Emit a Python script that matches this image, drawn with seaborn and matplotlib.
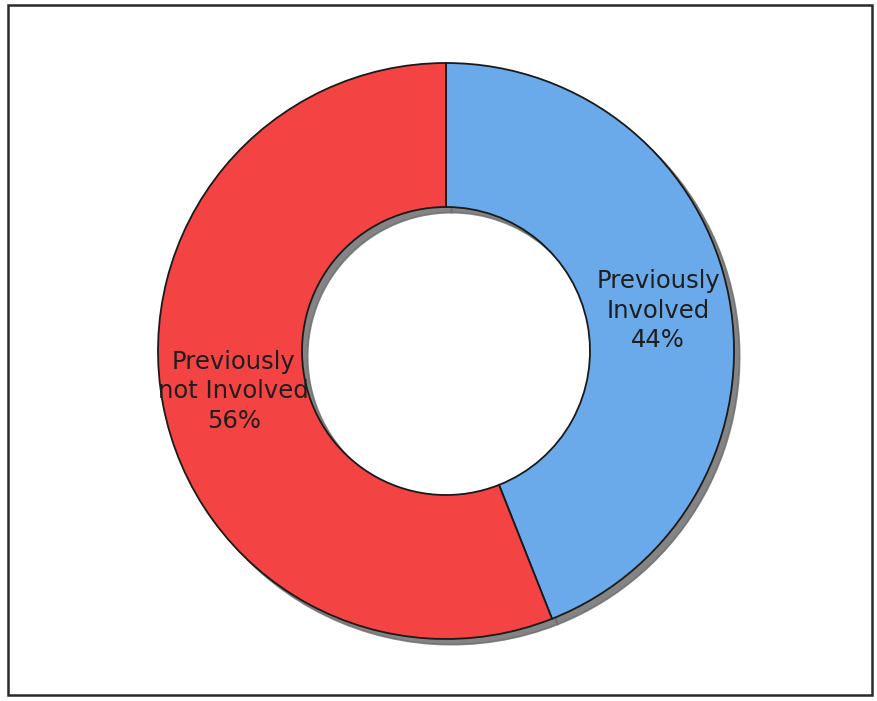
import matplotlib
matplotlib.use("Agg")
import matplotlib.pyplot as plt
import seaborn as sns
from matplotlib.patches import Rectangle

categories = ["Previously\nInvolved", "Previously\nnot Involved"]
values = [44, 56]
colors = ["#6aaaea", "#f44343"]

sns.set_theme(style="white")
plt.rcParams['font.family'] = ['DejaVu Sans']

W, H = 878, 701
fig = plt.figure(figsize=(W / 100, H / 100), dpi=100)
fig.patch.set_facecolor("white")

R = 288.0
lim = 1.05
cx, cy = 446.0, 351.0
aw, ah = 2 * lim * R, 2 * lim * R
ax = fig.add_axes([(cx - aw / 2) / W, (H - cy - ah / 2) / H, aw / W, ah / H])

labels = [f"{c}\n{v}%" for c, v in zip(categories, values)]
wedges, texts = ax.pie(
    values,
    labels=labels,
    colors=colors,
    startangle=90,
    counterclock=False,
    radius=1.0,
    labeldistance=0.75,
    wedgeprops=dict(width=0.5, edgecolor="#1a1a1a", linewidth=1.3),
    textprops=dict(fontsize=17.5, color="#1e1e1e", ha="center", va="center",
                   multialignment="center", linespacing=1.3),
    shadow=dict(ox=0.014, oy=-0.014, facecolor="#6e6e6e", edgecolor="#6e6e6e", alpha=0.85),
)
ax.set_xlim(-lim, lim)
ax.set_ylim(-lim, lim)
ax.set_aspect("equal")
ax.axis("off")

fig.patches.append(Rectangle((8 / W, 6 / H), 864 / W, 690 / H, transform=fig.transFigure,
                             fill=False, edgecolor="#2a2a2a", linewidth=1.8))

fig.savefig("out.png", dpi=100, facecolor="white")
